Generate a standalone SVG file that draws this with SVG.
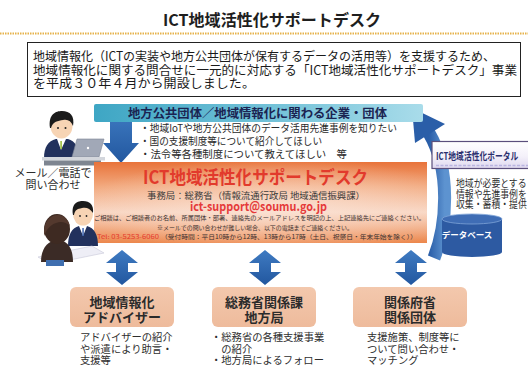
<svg xmlns="http://www.w3.org/2000/svg" width="528" height="371" viewBox="0 0 528 371">
  <style>
    text { font-family: "Noto Sans CJK JP", "Noto Sans", sans-serif; }
    .b { font-weight: 700; }
    .intro { font-size: 12.5px; fill: #1a1a1a; }
    .need { font-size: 10.2px; fill: #2a2a2a; }
    .small { font-size: 6px; fill: #3a3030; }
    .boxlbl { font-size: 13px; font-weight: 700; fill: #2b2b2b; text-anchor: middle; }
    .note { font-size: 10.3px; fill: #2e2e2e; }
    .dbl { fill: url(#blueV); }
    .peach { fill: url(#peach); }
  </style>
  <defs>
    <linearGradient id="teal" x1="0" y1="0" x2="1" y2="0">
      <stop offset="0" stop-color="#3ea6c4"/>
      <stop offset="0.6" stop-color="#79c5da"/>
      <stop offset="1" stop-color="#a9dcea"/>
    </linearGradient>
    <linearGradient id="orange" x1="0" y1="0" x2="0" y2="1">
      <stop offset="0" stop-color="#e8733a"/>
      <stop offset="0.3" stop-color="#f2a97e"/>
      <stop offset="0.62" stop-color="#f8d6c3"/>
      <stop offset="1" stop-color="#ec874c"/>
    </linearGradient>
    <radialGradient id="glow" cx="0.55" cy="0.55" r="0.6">
      <stop offset="0" stop-color="#fbe6da" stop-opacity="0.7"/>
      <stop offset="1" stop-color="#fbe6da" stop-opacity="0"/>
    </radialGradient>
    <linearGradient id="blueV" x1="0" y1="0" x2="0" y2="1">
      <stop offset="0" stop-color="#3f7bc2"/>
      <stop offset="1" stop-color="#22579f"/>
    </linearGradient>
    <linearGradient id="blueH" x1="0" y1="0" x2="1" y2="0">
      <stop offset="0" stop-color="#2a5ea8"/>
      <stop offset="1" stop-color="#5d93d0"/>
    </linearGradient>
    <linearGradient id="peach" x1="0" y1="0" x2="0" y2="1">
      <stop offset="0" stop-color="#f3c8ad"/>
      <stop offset="1" stop-color="#eebb9c"/>
    </linearGradient>
    <linearGradient id="lav" x1="0" y1="0" x2="0" y2="1">
      <stop offset="0" stop-color="#ffffff"/>
      <stop offset="0.55" stop-color="#f4f1fa"/>
      <stop offset="1" stop-color="#ded7ee"/>
    </linearGradient>
  </defs>

  <rect width="528" height="371" fill="#ffffff"/>

  <!-- heading -->
  <g id="title">
    <text x="163" y="26" class="b" font-size="16" fill="#1e1e1e" textLength="218" lengthAdjust="spacingAndGlyphs">ICT地域活性化サポートデスク</text>
    <line x1="0" y1="33.5" x2="528" y2="33.5" stroke="#e6b24a" stroke-width="2" stroke-dasharray="1.5 1"/>
  </g>

  <!-- introduction -->
  <g id="intro">
    <rect x="27.5" y="42.5" width="493" height="54" fill="#ffffff" stroke="#222" stroke-width="1"/>
    <text x="33" y="61" class="intro" textLength="462" lengthAdjust="spacingAndGlyphs">地域情報化（ICTの実装や地方公共団体が保有するデータの活用等）を支援するため、</text>
    <text x="33" y="74.5" class="intro" textLength="484" lengthAdjust="spacingAndGlyphs">地域情報化に関する問合せに一元的に対応する「ICT地域活性化サポートデスク」事業</text>
    <text x="33" y="88" class="intro" textLength="222" lengthAdjust="spacingAndGlyphs">を平成３０年４月から開設しました。</text>
  </g>

  <!-- connectors -->
  <g id="connectors">
    <!-- request arrow into the desk -->
    <polygon points="110,110 132,110 132,143 139,143 121,163 103,143 110,143" fill="url(#blueV)"/>
    <!-- portal feedback arrow -->
    <path d="M434,258 C447,225 451,170 429,133" fill="none" stroke="url(#blueH)" stroke-width="13"/>
    <polygon points="412,108 445,124 415,143" fill="#2a5ea8"/>
    <!-- two-way arrows -->
    <polygon class="dbl" points="122,250 138,263 128,263 128,272 138,272 122,285 106,272 116,272 116,263 106,263"/>
    <polygon class="dbl" points="265,250 281,263 271,263 271,272 281,272 265,285 249,272 259,272 259,263 249,263"/>
    <polygon class="dbl" points="411,250 427,263 417,263 417,272 427,272 411,285 395,272 405,272 405,263 395,263"/>
  </g>

  <!-- who asks -->
  <g id="needs">
    <rect x="94" y="104" width="329" height="18" rx="2" fill="url(#teal)"/>
    <text x="128" y="118" class="b" font-size="12" fill="#1b2452" textLength="259" lengthAdjust="spacingAndGlyphs">地方公共団体／地域情報化に関わる企業・団体</text>
    <text x="140" y="131.5" class="need" textLength="257" lengthAdjust="spacingAndGlyphs">・地域IoTや地方公共団体のデータ活用先進事例を知りたい</text>
    <text x="140" y="144.5" class="need" textLength="182" lengthAdjust="spacingAndGlyphs">・国の支援制度等について紹介してほしい</text>
    <text x="140" y="157.5" class="need" textLength="207" lengthAdjust="spacingAndGlyphs">・法令等各種制度について教えてほしい　等</text>
  </g>

  <!-- person at laptop -->
  <g id="inquirer">
    <path d="M44,158 C44,147 48,141 56,139 L68,139 C75,141 79,147 79,158 Z" fill="#22315d"/>
    <path d="M57,139 L61,150 L66,139 Z" fill="#ffffff"/>
    <rect x="60.3" y="141" width="1.6" height="8" fill="#9bbd3c"/>
    <ellipse cx="61.5" cy="126" rx="11" ry="12.5" fill="#f7d4b4"/>
    <path d="M50,128 C48,114 56,111 62,111 C70,111 75,116 73,126 C71,121 68,119 63,120 C58,121 53,121 51,128 Z" fill="#1b1b1b"/>
    <circle cx="58" cy="128" r="1" fill="#222"/>
    <circle cx="65.5" cy="128" r="1" fill="#222"/>
    <polygon points="77,139 104,139 99,157 72,157" fill="#a1a8b7" stroke="#7c8495" stroke-width="0.6"/>
    <circle cx="88" cy="148" r="1.2" fill="#ffffff"/>
    <rect x="42" y="157" width="63" height="3.5" fill="#d3d6dc"/>
    <rect x="44" y="160.5" width="57" height="5" fill="#7e8590"/>
    <text x="53" y="176.5" font-size="11" fill="#2e2e2e" text-anchor="middle">メール／電話で</text>
    <text x="53" y="188.5" font-size="11" fill="#2e2e2e" text-anchor="middle">問い合わせ</text>
  </g>

  <!-- the support desk -->
  <g id="desk">
    <rect x="94" y="162" width="333" height="81" fill="url(#orange)"/>
    <rect x="94" y="162" width="333" height="81" fill="url(#glow)"/>
    <text x="143" y="184" class="b" font-size="18" fill="#e23a2c" textLength="225" lengthAdjust="spacingAndGlyphs">ICT地域活性化サポートデスク</text>
    <text x="147" y="198.5" font-size="9" fill="#3a3a3a" textLength="218" lengthAdjust="spacingAndGlyphs">事務局：総務省（情報流通行政局 地域通信振興課）</text>
    <text x="190" y="211" class="b" font-size="12.5" fill="#e53a3a" textLength="137" lengthAdjust="spacingAndGlyphs">ict-support@soumu.go.jp</text>
    <text x="94" y="220" class="small" textLength="331" lengthAdjust="spacingAndGlyphs">ご相談は、ご相談者のお名前、所属団体・部署、連絡先のメールアドレスを明記の上、上記連絡先にご連絡ください。</text>
    <text x="157" y="229.5" class="small" textLength="196" lengthAdjust="spacingAndGlyphs">※メールでの問い合わせが難しい場合、以下の電話までご連絡ください。</text>
    <text x="97" y="238.5" class="small" style="fill:#e5392d" textLength="62" lengthAdjust="spacingAndGlyphs">Tel: 03-5253-6060</text>
    <text x="161" y="238.5" class="small" textLength="256" lengthAdjust="spacingAndGlyphs">（受付時間：平日10時から12時、13時から17時（土日、祝祭日・年末年始を除く））</text>
  </g>

  <!-- consultation scene -->
  <g id="consult">
    <path d="M68,246 C68,234 72,228 79,226 L87,226 C94,228 98,234 98,246 Z" fill="#22315d"/>
    <path d="M79,226 L83,236 L87,226 Z" fill="#ffffff"/>
    <rect x="82.3" y="228" width="1.5" height="8" fill="#3c63b0"/>
    <ellipse cx="83" cy="214" rx="10" ry="11.5" fill="#f7d4b4"/>
    <path d="M73,215 C71,203 78,201 83,201 C90,201 94,205 93,213 C90,208 86,207 82,208 C77,209 75,210 74,215 Z" fill="#1b1b1b"/>
    <circle cx="80" cy="216" r="0.9" fill="#222"/>
    <circle cx="86.5" cy="216" r="0.9" fill="#222"/>
    <polygon points="38,257 92,246 104,253 50,264" fill="#eeeef6" stroke="#c8c8d8" stroke-width="0.6"/>
    <path d="M41,262 C41,249 47,241 57,240 C67,240 73,247 73,262 Z" fill="#3b2b26"/>
    <ellipse cx="57" cy="229" rx="13" ry="15" fill="#3e2a22"/>
    <path d="M44,232 C44,222 50,215 58,215 C64,215 68,219 70,226 C66,222 61,221 56,223 C50,225 47,229 44,236 Z" fill="#54392e"/>
    <rect x="46" y="260" width="18" height="6" fill="#3f6fb0"/>
  </g>

  <!-- portal and database -->
  <g id="portal">
    <rect x="432" y="141.5" width="110" height="27" fill="url(#lav)" stroke="#5b4f7c" stroke-width="1.2"/>
    <text transform="translate(436,160) scale(0.74,1)" class="b" font-size="10.5" fill="#2a2f6e">ICT地域活性化ポータル</text>
    <line x1="436" y1="165.5" x2="528" y2="165.5" stroke="#b9b4e0" stroke-width="1.6" stroke-dasharray="3 1.5"/>
    <text transform="translate(456,187) scale(0.86,1)" class="note">地域が必要とする</text>
    <text transform="translate(456,197.5) scale(0.86,1)" class="note">情報や先進事例を</text>
    <text transform="translate(456,208) scale(0.86,1)" class="note">収集・蓄積・提供</text>
  </g>
  <g id="database">
    <path d="M442,219 L442,252 A30,5 0 0 0 502,252 L502,219 Z" fill="#2d5aa2"/>
    <ellipse cx="472" cy="219" rx="30" ry="5" fill="#3f6db5" stroke="#7fa4d8" stroke-width="0.8"/>
    <text x="467" y="238" class="b" font-size="8.5" fill="#ffffff" text-anchor="middle">データベース</text>
  </g>

  <!-- destinations -->
  <g id="advisor">
    <rect x="70" y="287" width="104" height="40" rx="6" class="peach"/>
    <text x="122" y="307" class="boxlbl">地域情報化</text>
    <text x="122" y="321.5" class="boxlbl">アドバイザー</text>
    <text x="80" y="341" class="note">アドバイザーの紹介</text>
    <text x="80" y="352.5" class="note">や派遣により助言・</text>
    <text x="80" y="364" class="note">支援等</text>
  </g>
  <g id="mic-bureaus">
    <rect x="212" y="287" width="104" height="40" rx="6" class="peach"/>
    <text x="264" y="307" class="boxlbl">総務省関係課</text>
    <text x="264" y="321.5" class="boxlbl">地方局</text>
    <text x="211" y="341" class="note">・総務省の各種支援事業</text>
    <text x="211" y="352.5" class="note">　の紹介</text>
    <text x="211" y="364" class="note">・地方局によるフォロー</text>
  </g>
  <g id="ministries">
    <rect x="353" y="287" width="114" height="40" rx="6" class="peach"/>
    <text x="410" y="307" class="boxlbl">関係府省</text>
    <text x="410" y="321.5" class="boxlbl">関係団体</text>
    <text x="367" y="341" class="note">支援施策、制度等に</text>
    <text x="367" y="352.5" class="note">ついて問い合わせ・</text>
    <text x="367" y="364" class="note">マッチング</text>
  </g>
</svg>
